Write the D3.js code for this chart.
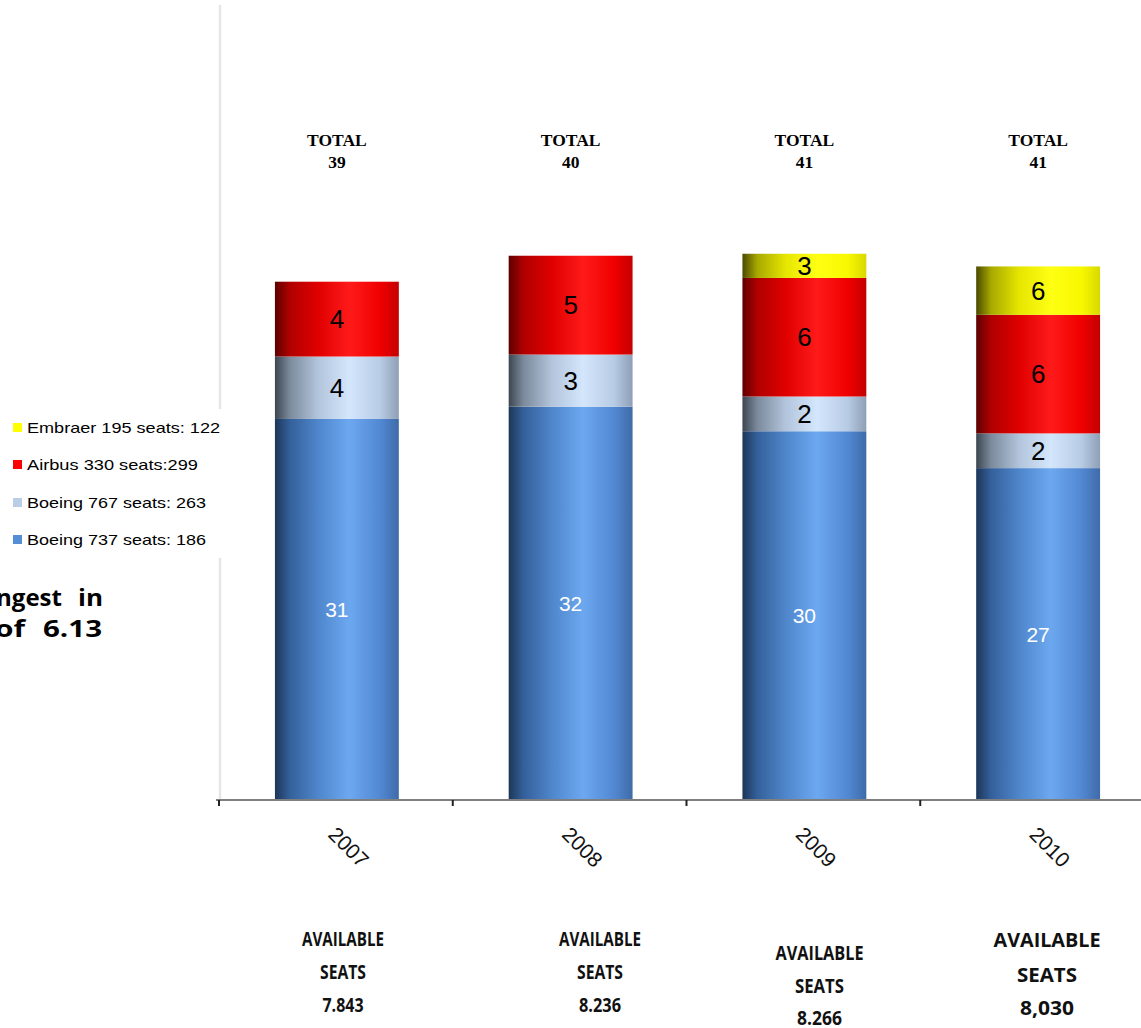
<!DOCTYPE html>
<html><head><meta charset="utf-8">
<script src="https://cdn.jsdelivr.net/npm/d3@7"></script>
<style>
html,body{margin:0;padding:0;background:#fff;}
svg{display:block;}
</style></head>
<body>
<svg id="chart" width="1141" height="1028"></svg>
<script>
// ---------- DATA ----------
const years = ["2007", "2008", "2009", "2010"];
// bar segment sizes (available seats by aircraft type)
const seatsB737 = [5766, 5952, 5580, 5022];
const seatsB767 = [945, 789, 526, 526];
const seatsA330 = [1132, 1495, 1794, 1794];
const seatsE195 = [0, 0, 366, 732];
// aircraft counts (segment labels)
const countB737 = [31, 32, 30, 27];
const countB767 = [4, 3, 2, 2];
const countA330 = [4, 5, 6, 6];
const countE195 = [0, 0, 3, 6];
const totals = [39, 40, 41, 41];
const availableSeats = ["7.843", "8.236", "8.266", "8,030"];
const seriesNames = ["Boeing 737 seats: 186", "Boeing 767 seats: 263", "Airbus 330 seats:299", "Embraer 195 seats: 122"];
const yTicks = [0, 12000];

// ---------- SETUP ----------
const svg = d3.select("#chart");
const baseY = 800;
const x = d3.scaleBand().domain(years).range([219, 1154]).padding(0);
const y = d3.scaleLinear().domain(d3.extent(yTicks)).range([baseY, 7]);
const barW = x.bandwidth() * 0.53;

const series = [
  {key: "b737", name: seriesNames[0], seats: seatsB737, counts: countB737, swatch: "#558ed5",
   stops: [[0, "#1d3658"], [0.12, "#34609a"], [0.35, "#4f86cc"], [0.6, "#6ca8f0"], [0.85, "#5288d2"], [1, "#3f6ba8"]],
   labelColor: "#ffffff", labelSize: 21},
  {key: "b767", name: seriesNames[1], seats: seatsB767, counts: countB767, swatch: "#b9cde5",
   stops: [[0, "#3c4650"], [0.12, "#7b8a9c"], [0.35, "#b3c5dc"], [0.6, "#d4e6fc"], [0.85, "#b7cbe4"], [1, "#8e9fb6"]],
   labelColor: "#000000", labelSize: 26},
  {key: "a330", name: seriesNames[2], seats: seatsA330, counts: countA330, swatch: "#ff0000",
   stops: [[0, "#5e0000"], [0.12, "#b00000"], [0.35, "#e00000"], [0.6, "#ff1a1a"], [0.85, "#f00000"], [1, "#c40000"]],
   labelColor: "#000000", labelSize: 26},
  {key: "e195", name: seriesNames[3], seats: seatsE195, counts: countE195, swatch: "#ffff00",
   stops: [[0, "#4a4a00"], [0.12, "#a8a800"], [0.35, "#e6e600"], [0.6, "#ffff14"], [0.85, "#f8f800"], [1, "#d8d800"]],
   labelColor: "#000000", labelSize: 26}
];

const defs = svg.append("defs");
series.forEach(s => {
  const g = defs.append("linearGradient").attr("id", "grad-" + s.key)
    .attr("x1", "0%").attr("x2", "100%").attr("y1", "0%").attr("y2", "0%");
  s.stops.forEach(st => g.append("stop").attr("offset", st[0]).attr("stop-color", st[1]));
});

// ---------- AXES ----------
svg.append("line").attr("x1", 220).attr("x2", 220)
  .attr("y1", y(yTicks[1]) - 2).attr("y2", baseY)
  .attr("stroke", "#e6e6e6").attr("stroke-width", 2.5);

const stackData = years.map((yr, i) => {
  const o = {year: yr};
  series.forEach(s => { o[s.key] = s.seats[i]; });
  return o;
});
const stack = d3.stack().keys(series.map(s => s.key));
const layers = stack(stackData);

const bars = svg.append("g");
layers.forEach((layer, li) => {
  const s = series[li];
  layer.forEach((d, i) => {
    if (d[1] - d[0] <= 0) return;
    const cx = x(d.data.year) + x.bandwidth() / 2 + 1;
    const x0 = cx - barW / 2;
    const yTop = y(d[1]), yBot = y(d[0]);
    bars.append("rect")
      .attr("x", x0).attr("y", yTop)
      .attr("width", barW).attr("height", yBot - yTop)
      .attr("fill", "url(#grad-" + s.key + ")");
    bars.append("text")
      .attr("x", cx).attr("y", (yTop + yBot) / 2)
      .attr("text-anchor", "middle").attr("dominant-baseline", "central")
      .attr("font-family", "Liberation Sans, Arial, sans-serif")
      .attr("font-size", s.labelSize)
      .attr("fill", s.labelColor)
      .text(s.counts[i]);
  });
});

// x axis
const xAxis = svg.append("g").attr("transform", `translate(0,${baseY})`);
xAxis.append("line").attr("x1", 216).attr("x2", 1141).attr("y1", 0).attr("y2", 0)
  .attr("stroke", "#7f7f7f").attr("stroke-width", 2);
const tickPos = years.map(yr => x(yr));
xAxis.selectAll("line.tick").data(tickPos).enter().append("line")
  .attr("class", "tick")
  .attr("x1", d => d).attr("x2", d => d).attr("y1", 0).attr("y2", 6)
  .attr("stroke", "#222").attr("stroke-width", 2);

// rotated year labels
svg.selectAll("text.year").data(years).enter().append("text")
  .attr("class", "year")
  .attr("transform", d => `translate(${x(d) + x.bandwidth() / 2 + 13},${847}) rotate(45)`)
  .attr("text-anchor", "middle").attr("dominant-baseline", "central")
  .attr("font-family", "Liberation Sans, Arial, sans-serif")
  .attr("font-size", 21).attr("fill", "#111")
  .text(d => d);

// totals
years.forEach((yr, i) => {
  const cx = x(yr) + x.bandwidth() / 2 + 1;
  const t = svg.append("text").attr("text-anchor", "middle")
    .attr("font-family", "Liberation Serif, Times New Roman, serif")
    .attr("font-weight", "bold").attr("font-size", 17.5).attr("fill", "#000");
  t.append("tspan").attr("x", cx).attr("y", 146).text("TOTAL");
  t.append("tspan").attr("x", cx).attr("y", 168).text(totals[i]);
});

// available seats text
const availLayout = [
  {cx: 343, ys: [946, 979, 1012], w: [82, 46, 41]},
  {cx: 600, ys: [946, 979, 1012], w: [82, 46, 42]},
  {cx: 819.5, ys: [960, 993, 1025], w: [88, 49, 45]},
  {cx: 1047, ys: [947, 982, 1015], w: [107, 60, 54]}
];
availableSeats.forEach((v, i) => {
  const L = availLayout[i];
  const lines = ["AVAILABLE", "SEATS", v];
  lines.forEach((ln, j) => {
    svg.append("text")
      .attr("x", L.cx).attr("y", L.ys[j]).attr("text-anchor", "middle")
      .attr("font-family", "Open Sans, sans-serif").attr("font-weight", "bold")
      .attr("font-size", 19.5).attr("fill", "#111")
      .attr("textLength", L.w[j]).attr("lengthAdjust", "spacingAndGlyphs")
      .text(ln);
  });
});

// legend (white box covering axis)
const lg = svg.append("g");
lg.append("rect").attr("x", 0).attr("y", 409).attr("width", 223).attr("height", 149).attr("fill", "#fff");
const legendItems = [series[3], series[2], series[1], series[0]];
const legendBase = [433, 470, 508, 545];
const legendW = [193, 171, 179, 179];
legendItems.forEach((s, i) => {
  lg.append("rect").attr("x", 13).attr("y", legendBase[i] - 10).attr("width", 9).attr("height", 9)
    .attr("fill", s.swatch);
  lg.append("text").attr("x", 27).attr("y", legendBase[i])
    .attr("font-family", "Liberation Sans, Arial, sans-serif").attr("font-size", 15)
    .attr("fill", "#000")
    .attr("textLength", legendW[i]).attr("lengthAdjust", "spacingAndGlyphs")
    .text(s.name);
});

// cut-off side text
const sideFont = {family: "Open Sans, sans-serif", weight: "bold", size: 24};
function sideText(txt, xPos, yPos, anchor, len) {
  const t = svg.append("text").attr("x", xPos).attr("y", yPos).attr("text-anchor", anchor)
    .attr("font-family", sideFont.family).attr("font-weight", sideFont.weight)
    .attr("font-size", sideFont.size).attr("fill", "#000").text(txt);
  if (len) t.attr("textLength", len).attr("lengthAdjust", "spacingAndGlyphs");
}
sideText("ngest", 62, 606, "end", 66);
sideText("in", 78, 606, "start", 25);
sideText("of", 25, 637, "end", 30);
sideText("6.13", 43, 637, "start", 59);
</script>
</body></html>
